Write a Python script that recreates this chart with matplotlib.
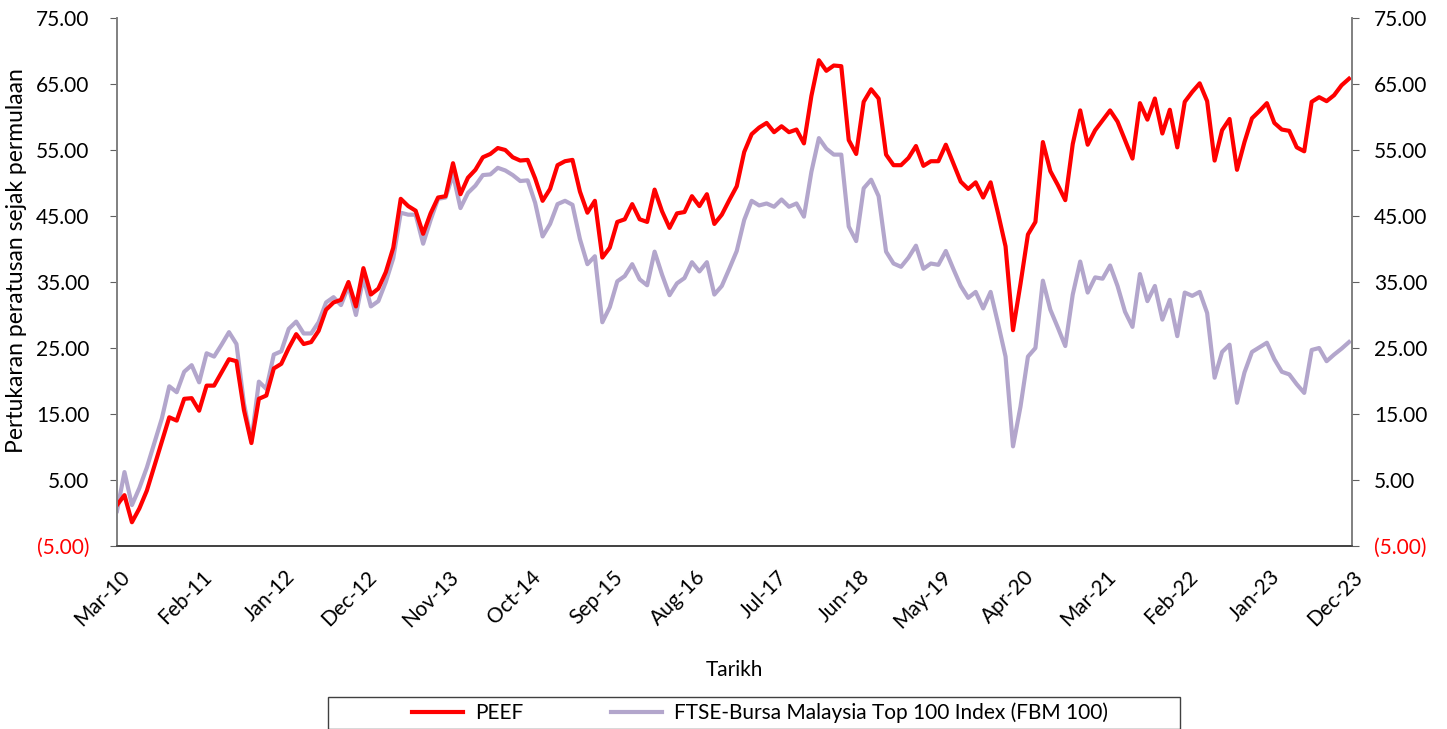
import matplotlib
matplotlib.use("Agg")
import matplotlib.pyplot as plt
import matplotlib.transforms as mtransforms
import numpy as np
from matplotlib.patches import Rectangle

tick_labels = ["Mar-10", "Feb-11", "Jan-12", "Dec-12", "Nov-13", "Oct-14", "Sep-15", "Aug-16",
               "Jul-17", "Jun-18", "May-19", "Apr-20", "Mar-21", "Feb-22", "Jan-23", "Dec-23"]

peef = [1.2, 2.7, -1.4, 0.7, 3.4, 7.1, 10.8, 14.5, 14.0, 17.3, 17.4, 15.5, 19.3, 19.3, 21.3, 23.3,
        23.0, 15.6, 10.6, 17.3, 17.8, 21.9, 22.6, 25.0, 27.1, 25.6, 25.9, 27.6, 30.8, 31.9, 32.3, 35.0,
        31.3, 37.1, 33.1, 34.0, 36.5, 40.2, 47.6, 46.5, 45.8, 42.3, 45.4, 47.8, 48.0, 53.0, 48.3, 50.8,
        52.0, 53.9, 54.4, 55.3, 55.0, 53.9, 53.4, 53.5, 50.7, 47.3, 49.1, 52.7, 53.3, 53.5, 48.7, 45.5,
        47.3, 38.7, 40.2, 44.1, 44.5, 46.8, 44.5, 44.1, 49.0, 45.7, 43.2, 45.4, 45.6, 48.0, 46.5, 48.3,
        43.8, 45.2, 47.4, 49.5, 54.7, 57.4, 58.4, 59.1, 57.7, 58.6, 57.7, 58.1, 56.0, 63.2, 68.6, 67.0,
        67.8, 67.7, 56.5, 54.4, 62.3, 64.2, 62.8, 54.3, 52.7, 52.7, 53.8, 55.6, 52.6, 53.3, 53.3, 55.8,
        53.0, 50.2, 49.1, 50.1, 47.8, 50.1, 45.4, 40.4, 27.7, 34.7, 42.2, 44.1, 56.2, 51.8, 49.7, 47.4,
        55.9, 61.0, 55.8, 58.0, 59.5, 61.0, 59.3, 56.5, 53.7, 62.1, 59.6, 62.8, 57.5, 61.1, 55.4, 62.3,
        63.8, 65.1, 62.4, 53.4, 58.0, 59.7, 52.0, 56.2, 59.8, 60.9, 62.1, 59.1, 58.1, 57.9, 55.4, 54.8,
        62.3, 63.0, 62.4, 63.3, 64.8, 65.8]

fbm100 = [0.3, 6.2, 1.2, 3.8, 6.9, 10.6, 14.3, 19.2, 18.3, 21.4, 22.4, 19.8, 24.2, 23.7, 25.5, 27.4,
          25.6, 16.6, 10.9, 19.9, 18.8, 24.0, 24.5, 27.9, 29.0, 27.2, 27.2, 28.9, 31.9, 32.7, 31.5, 34.4,
          30.0, 35.7, 31.3, 32.1, 35.0, 38.6, 45.5, 45.2, 45.2, 40.8, 44.4, 47.6, 47.8, 51.3, 46.2, 48.5,
          49.6, 51.2, 51.3, 52.3, 51.9, 51.2, 50.3, 50.4, 47.0, 41.9, 43.8, 46.8, 47.3, 46.7, 41.5, 37.7,
          38.9, 28.9, 31.2, 35.1, 35.9, 37.7, 35.4, 34.5, 39.6, 36.1, 33.0, 34.8, 35.6, 38.0, 36.6, 38.0,
          33.1, 34.4, 37.0, 39.7, 44.4, 47.3, 46.6, 46.9, 46.4, 47.5, 46.4, 46.9, 44.9, 51.7, 56.8, 55.2,
          54.3, 54.3, 43.4, 41.2, 49.2, 50.5, 48.0, 39.6, 37.8, 37.3, 38.7, 40.5, 37.0, 37.8, 37.6, 39.7,
          37.0, 34.4, 32.6, 33.5, 31.0, 33.5, 28.7, 23.7, 10.1, 16.1, 23.7, 25.0, 35.2, 30.8, 28.1, 25.3,
          33.1, 38.1, 33.4, 35.7, 35.5, 37.5, 34.4, 30.5, 28.2, 36.2, 32.1, 34.4, 29.3, 32.3, 26.8, 33.4,
          32.9, 33.5, 30.3, 20.5, 24.4, 25.5, 16.7, 21.3, 24.4, 25.1, 25.8, 23.3, 21.4, 21.0, 19.5, 18.2,
          24.7, 25.0, 23.0, 24.0, 24.9, 25.9]

series_names = ["PEEF", "FTSE-Bursa Malaysia Top 100 Index (FBM 100)"]
y_ticks = [-5, 5, 15, 25, 35, 45, 55, 65, 75]

plt.rcParams['font.family'] = ['Lato', 'DejaVu Sans']
FS = 15

W, H = 1447, 729
fig = plt.figure(figsize=(W / 100, H / 100), dpi=100)
ax = fig.add_axes([117 / W, 1 - 546 / H, (1352 - 117) / W, (546 - 18) / H])

x = np.arange(len(peef))
lg, = ax.plot(x, fbm100, color='#B3A6CC', lw=3.0, solid_joinstyle='round', label=series_names[1])
lr, = ax.plot(x, peef, color='#FF0000', lw=3.0, solid_joinstyle='round', label=series_names[0])

ax.set_xlim(0, len(peef) - 1 + 0.4)
ax.set_ylim(-5, 75)

def fmt(v):
    return "({:.2f})".format(-v) if v < 0 else "{:.2f}".format(v)

ax.set_yticks(y_ticks)
ax.set_yticklabels([fmt(v) for v in y_ticks], fontsize=FS)
ax.set_xticks(np.arange(0, len(peef), 11))
ax.set_xticklabels(tick_labels, rotation=45, ha='right', va='top', rotation_mode='anchor', fontsize=FS)
ax.tick_params(axis='x', length=0, pad=15)
ax.tick_params(axis='y', length=5, color='#606060', direction='out', pad=15)
offset = mtransforms.ScaledTranslation(3 / 100, 0, fig.dpi_scale_trans)
for lab in ax.get_xticklabels():
    lab.set_transform(lab.get_transform() + offset)

ax2 = ax.twinx()
ax2.set_ylim(-5, 75)
ax2.set_yticks(y_ticks)
ax2.set_yticklabels([fmt(v) for v in y_ticks], fontsize=FS)
ax2.tick_params(axis='y', length=5, color='#606060', direction='out', pad=11)

for a in (ax, ax2):
    a.spines['top'].set_visible(False)
    a.spines['left'].set_color('#808080')
    a.spines['right'].set_color('#808080')
    a.spines['bottom'].set_color('#404040')
    a.spines['left'].set_linewidth(1.2)
    a.spines['right'].set_linewidth(1.2)
    a.spines['bottom'].set_linewidth(1.2)
    for t, v in zip(a.get_yticklabels(), y_ticks):
        t.set_color('#FF0000' if v < 0 else 'black')

ax.set_xlabel("Tarikh", fontsize=FS, labelpad=20)
ax.set_ylabel("Pertukaran peratusan sejak permulaan", fontsize=16.5)
ax.yaxis.set_label_coords(-0.073, 0.54)

# legend box
fig.patches.append(Rectangle((328 / W, 0), (1180 - 328) / W, (729 - 697) / H,
                             transform=fig.transFigure, facecolor='white',
                             edgecolor='#404040', lw=1.0, clip_on=False))
fig.legend([lr, lg], series_names, loc='center', bbox_to_anchor=(760 / W, 1 - 713 / H),
           ncol=2, frameon=False, fontsize=FS, handlelength=2.45, columnspacing=4.2,
           handletextpad=0.6)

fig.savefig("out.png", dpi=100)
